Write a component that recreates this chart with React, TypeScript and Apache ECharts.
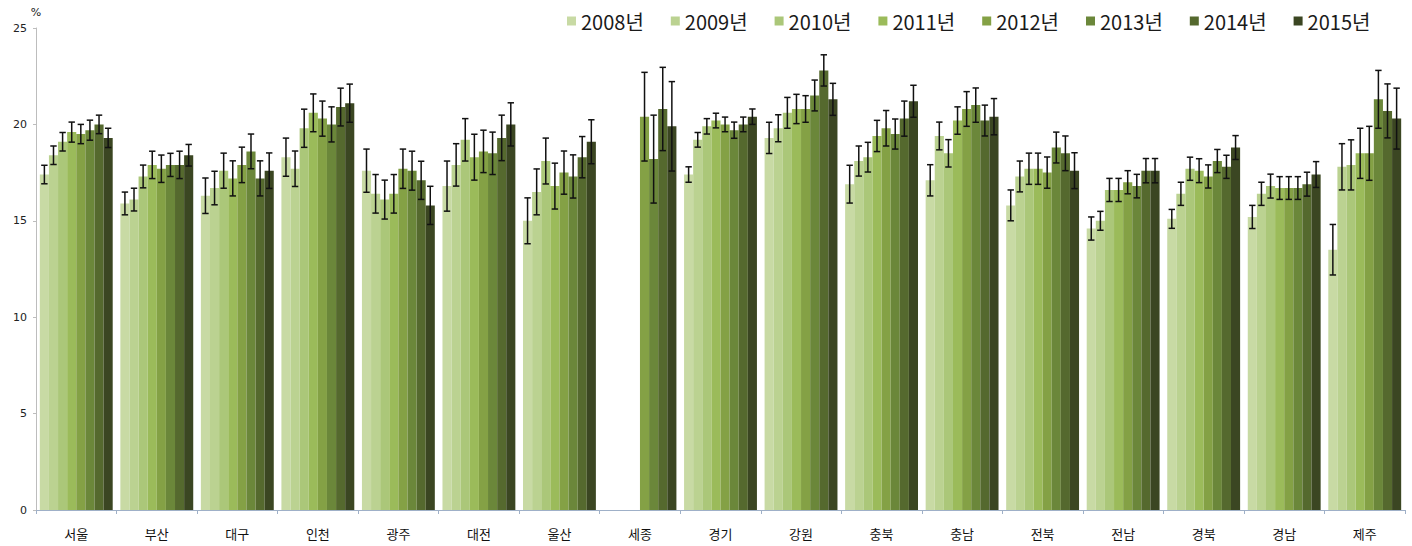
import React, { useEffect, useRef } from "react";
import * as echarts from "echarts";

const regions = ["서울", "부산", "대구", "인천", "광주", "대전", "울산", "세종", "경기", "강원", "충북", "충남", "전북", "전남", "경북", "경남", "제주"];
const years = ["2008년", "2009년", "2010년", "2011년", "2012년", "2013년", "2014년", "2015년"];
const colors = ["#c8daa4", "#bbd291", "#abc779", "#9bbb5a", "#84a145", "#6b873a", "#55692e", "#3b4622"];

const v2008 = [17.4, 15.9, 16.3, 18.3, 17.6, 16.8, 15.0, null, 17.4, 19.3, 16.9, 17.1, 15.8, 14.6, 15.1, 15.2, 13.5];
const v2009 = [18.4, 16.1, 16.7, 17.7, 16.4, 17.9, 16.5, null, 19.2, 19.8, 18.1, 19.4, 17.3, 15.0, 16.4, 16.4, 17.8];
const v2010 = [19.1, 17.3, 17.6, 19.8, 16.1, 19.2, 18.1, null, 19.9, 20.6, 18.3, 18.5, 17.7, 16.6, 17.7, 16.8, 17.9];
const v2011 = [19.6, 17.9, 17.2, 20.6, 16.4, 18.3, 16.8, null, 20.2, 20.8, 19.4, 20.2, 17.7, 16.6, 17.6, 16.7, 18.5];
const v2012 = [19.5, 17.7, 17.9, 20.3, 17.7, 18.6, 17.5, 20.4, 20.0, 20.8, 19.8, 20.8, 17.5, 17.0, 17.3, 16.7, 18.5];
const v2013 = [19.7, 17.9, 18.6, 20.0, 17.6, 18.5, 17.3, 18.2, 19.7, 21.5, 19.5, 21.0, 18.8, 16.8, 18.1, 16.7, 21.3];
const v2014 = [20.0, 17.9, 17.2, 20.9, 17.1, 19.3, 18.3, 20.8, 20.0, 22.8, 20.3, 20.2, 18.5, 17.6, 17.8, 16.9, 20.7];
const v2015 = [19.3, 18.4, 17.6, 21.1, 15.8, 20.0, 19.1, 19.9, 20.4, 21.3, 21.2, 20.4, 17.6, 17.6, 18.8, 17.4, 20.3];

const e2008 = [0.48, 0.59, 0.92, 0.99, 1.12, 1.3, 1.19, null, 0.4, 0.81, 0.98, 0.81, 0.8, 0.6, 0.49, 0.6, 1.31];
const e2009 = [0.48, 0.59, 0.87, 0.92, 1.0, 1.1, 1.19, null, 0.38, 0.7, 0.78, 0.72, 0.8, 0.49, 0.6, 0.6, 1.2];
const e2010 = [0.48, 0.59, 0.91, 0.99, 1.01, 1.1, 1.19, null, 0.4, 0.8, 0.77, 0.71, 0.81, 0.6, 0.6, 0.62, 1.3];
const e2011 = [0.52, 0.71, 0.91, 0.98, 1.0, 1.19, 1.19, null, 0.38, 0.76, 0.81, 0.71, 0.81, 0.6, 0.62, 0.59, 1.3];
const e2012 = [0.5, 0.71, 0.92, 0.91, 1.02, 1.1, 1.12, 2.3, 0.38, 0.69, 0.92, 0.9, 0.81, 0.6, 0.6, 0.59, 1.4];
const e2013 = [0.52, 0.6, 0.9, 0.91, 1.01, 1.1, 1.12, 2.28, 0.42, 0.8, 0.78, 0.89, 0.8, 0.61, 0.6, 0.59, 1.5];
const e2014 = [0.48, 0.71, 0.91, 0.98, 0.99, 1.18, 1.07, 2.16, 0.38, 0.81, 0.91, 0.8, 0.9, 0.63, 0.6, 0.62, 1.4];
const e2015 = [0.5, 0.56, 0.92, 0.99, 0.99, 1.12, 1.14, 2.32, 0.4, 0.83, 0.83, 0.94, 0.93, 0.63, 0.62, 0.67, 1.58];

const yTicks = [0, 5, 10, 15, 20, 25];

const values = [v2008, v2009, v2010, v2011, v2012, v2013, v2014, v2015];
const errors = [e2008, e2009, e2010, e2011, e2012, e2013, e2014, e2015];

const CAT_GAP = 0.095;

export default function App() {
  const ref = useRef<HTMLDivElement>(null);
  useEffect(() => {
    document.body.style.margin = "0";
    if (!ref.current) return;
    const chart = echarts.init(ref.current, null, { renderer: "svg" });
    const n = years.length;
    const barSeries = years.map((y, s) => ({
      name: y,
      type: "bar",
      data: values[s],
      barGap: "0%",
      barCategoryGap: CAT_GAP * 100 + "%",
      itemStyle: { color: colors[s] },
      z: 2,
    }));
    const errSeries = years.map((y, s) => ({
      name: y + "_err",
      type: "custom",
      z: 5,
      silent: true,
      data: values[s]
        .map((v, i) => (v == null || errors[s][i] == null ? null : [i, v, errors[s][i]]))
        .filter((d) => d != null),
      encode: { x: 0, y: 1 },
      renderItem: (params: any, api: any) => {
        const cat = api.value(0);
        const v = api.value(1);
        const e = api.value(2);
        const band = api.size([1, 0])[0];
        const barW = (band * (1 - CAT_GAP)) / n;
        const cx = api.coord([cat, v])[0] + (s - (n - 1) / 2) * barW;
        const yt = api.coord([cat, v + e])[1];
        const yb = api.coord([cat, v - e])[1];
        const cap = 3.2;
        const st = { stroke: "#111", lineWidth: 1.5 };
        return {
          type: "group",
          children: [
            { type: "line", shape: { x1: cx, y1: yt, x2: cx, y2: yb }, style: st },
            { type: "line", shape: { x1: cx - cap, y1: yt, x2: cx + cap, y2: yt }, style: st },
            { type: "line", shape: { x1: cx - cap, y1: yb, x2: cx + cap, y2: yb }, style: st },
          ],
        };
      },
    }));
    chart.setOption({
      animation: false,
      backgroundColor: "#ffffff",
      color: colors,
      grid: { left: 36, right: 7, top: 28, bottom: 36, containLabel: false },
      legend: {
        data: years,
        left: 562,
        top: 6,
        itemWidth: 9,
        itemHeight: 9,
        itemGap: 27,
        icon: "rect",
        textStyle: { fontSize: 20, color: "#1a1a1a", fontFamily: "Noto Sans CJK KR" },
      },
      xAxis: {
        type: "category",
        data: regions,
        axisLine: { lineStyle: { color: "#9fb0c8", width: 1 } },
        axisTick: { show: true, length: 4, lineStyle: { color: "#9fb0c8" } },
        axisLabel: { margin: 17, fontSize: 13, color: "#111", fontFamily: "Noto Sans CJK KR" },
        splitLine: { show: false },
      },
      yAxis: {
        type: "value",
        min: yTicks[0],
        max: yTicks[yTicks.length - 1],
        interval: 5,
        name: "%",
        nameLocation: "end",
        nameGap: 10,
        nameTextStyle: { fontSize: 11, color: "#222", fontFamily: "DejaVu Sans", align: "center" },
        axisLine: { show: true, lineStyle: { color: "#bdbdbd" } },
        axisTick: { show: true, length: 3, lineStyle: { color: "#bdbdbd" } },
        axisLabel: { fontSize: 11, color: "#222", margin: 9, fontFamily: "DejaVu Sans" },
        splitLine: { show: false },
      },
      series: [...barSeries, ...errSeries],
    });
    return () => chart.dispose();
  }, []);
  return <div ref={ref} style={{ width: 1412, height: 546 }} />;
}
